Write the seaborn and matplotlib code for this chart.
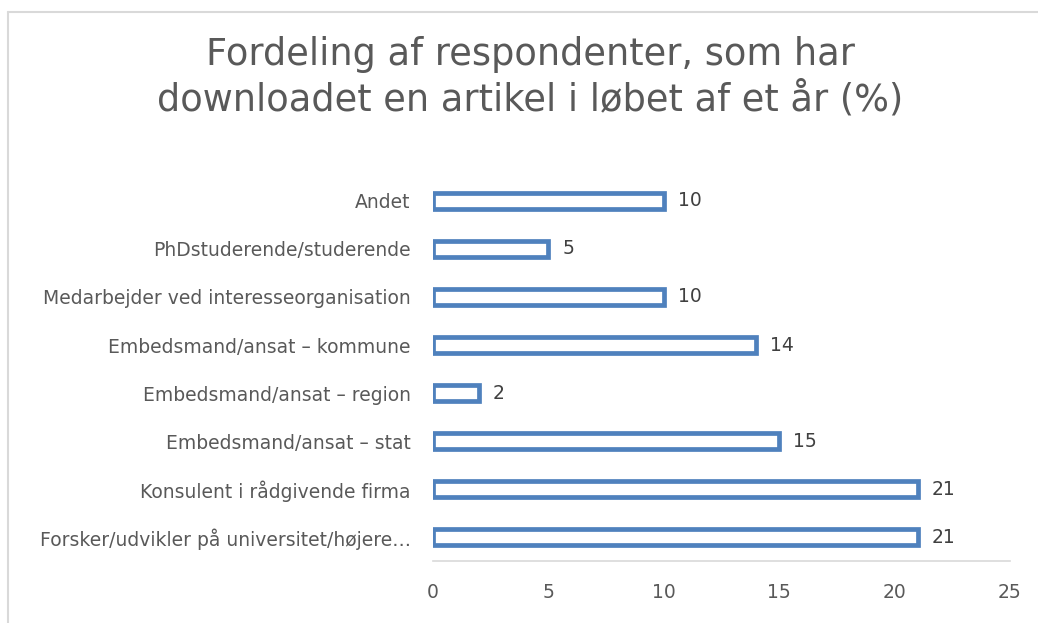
import matplotlib
matplotlib.use('Agg')
import matplotlib.pyplot as plt
from matplotlib.lines import Line2D
import seaborn as sns
import pandas as pd

# Data (top to bottom)
categories = [
    'Andet',
    'PhDstuderende/studerende',
    'Medarbejder ved interesseorganisation',
    'Embedsmand/ansat – kommune',
    'Embedsmand/ansat – region',
    'Embedsmand/ansat – stat',
    'Konsulent i rådgivende firma',
    'Forsker/udvikler på universitet/højere…',
]
percent = [10, 5, 10, 14, 2, 15, 21, 21]
xticks = [0, 5, 10, 15, 20, 25]

df = pd.DataFrame({'Kategori': categories, 'Procent': percent})

sns.set_style('white')
plt.rcParams['font.family'] = ['DejaVu Sans']

fig = plt.figure(figsize=(10.38, 6.23), dpi=100)
ax = fig.add_axes([0.4171, 0.0995, 0.5559, 0.6164])

sns.barplot(data=df, x='Procent', y='Kategori', ax=ax, color='white',
            edgecolor='#4F81BD', linewidth=3.4, width=0.32, saturation=1)

ax.bar_label(ax.containers[0], padding=10, fontsize=13.5, color='#404040')

ax.set_xlim(0, 25)
ax.set_xticks(xticks)
ax.set_xlabel('')
ax.set_ylabel('')
ax.tick_params(axis='both', length=0, labelsize=13.5, colors='#595959')
ax.tick_params(axis='y', pad=16)
ax.tick_params(axis='x', pad=16)
for side in ['top', 'right', 'left']:
    ax.spines[side].set_visible(False)
ax.spines['bottom'].set_color('#D9D9D9')
ax.spines['bottom'].set_linewidth(1.2)

fig.text(0.511, 0.876, 'Fordeling af respondenter, som har\ndownloadet en artikel i løbet af et år (%)',
         ha='center', va='center', fontsize=26.5, color='#595959', linespacing=1.3)

# chart border (left and top visible)
fig.add_artist(Line2D([8 / 1038, 8 / 1038], [0, 1 - 12 / 623], transform=fig.transFigure,
                      color='#D9D9D9', lw=1.5))
fig.add_artist(Line2D([8 / 1038, 1], [1 - 12 / 623, 1 - 12 / 623], transform=fig.transFigure,
                      color='#D9D9D9', lw=1.5))

fig.savefig('out.png', dpi=100)
